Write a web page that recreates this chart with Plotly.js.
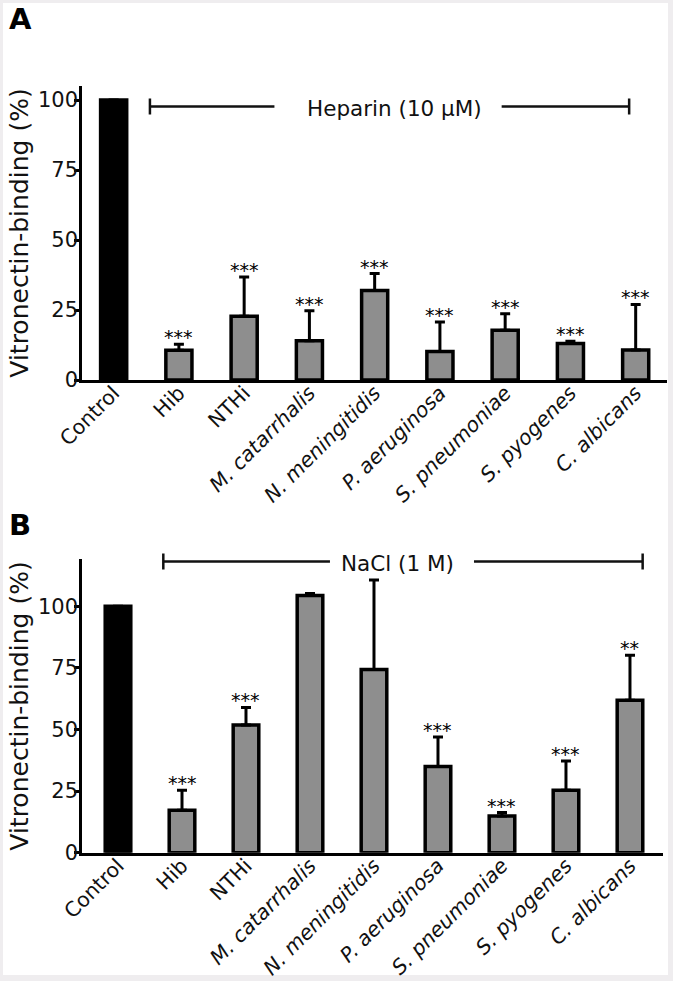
<!DOCTYPE html>
<html>
<head>
<meta charset="utf-8">
<script src="https://cdn.plot.ly/plotly-3.0.1.min.js"></script>
<style>html,body{margin:0;padding:0;background:#efedef;}#chart{width:673px;height:981px;}</style>
</head>
<body>
<div id="chart"></div>
<script>
// ---- data ----
const categories = ['Control', 'Hib', 'NTHi', 'M. catarrhalis', 'N. meningitidis', 'P. aeruginosa', 'S. pneumoniae', 'S. pyogenes', 'C. albicans'];
const tickLabels = ['Control', 'Hib', 'NTHi', '<i>M. catarrhalis</i>', '<i>N. meningitidis</i>', '<i>P. aeruginosa</i>', '<i>S. pneumoniae</i>', '<i>S. pyogenes</i>', '<i>C. albicans</i>'];
const yTicks = [0, 25, 50, 75, 100];

const heparinValues = [100, 10.6, 22.8, 14.0, 32.0, 10.2, 17.8, 13.0, 10.7];
const heparinErrors = [null, 2.2, 14.0, 10.7, 6.0, 10.5, 5.9, 0.8, 16.3];
const heparinStars = ['', '***', '***', '***', '***', '***', '***', '***', '***'];
const heparinLabel = 'Heparin (10 μM)';

const naclValues = [100, 17.2, 51.8, 104.3, 74.3, 35.0, 14.9, 25.3, 61.8];
const naclErrors = [null, 8.1, 7.1, 0.8, 36.3, 11.9, 1.4, 11.9, 18.3];
const naclStars = ['', '***', '***', '', '', '***', '***', '***', '**'];
const naclLabel = 'NaCl (1 M)';

const panelLabels = ['A', 'B'];
const yTitle = 'Vitronectin-binding (%)';

// ---- styling ----
const FONT = 'DejaVu Sans, Arial, sans-serif';
const W = 673, H = 981;
const px = v => v / W;
const py = v => 1 - v / H;
const GREY = '#8e8e8e';
const barColors = categories.map((c, i) => i === 0 ? '#000000' : GREY);

function barTrace(values, errors, xa, ya) {
  return {
    type: 'bar', x: categories, y: values, xaxis: xa, yaxis: ya,
    width: 0.4,
    marker: {color: barColors, line: {color: '#000', width: 3.5}},
    error_y: {type: 'data', symmetric: false, array: errors,
              arrayminus: errors.map(() => 0), color: '#000', thickness: 3, width: 5},
    hoverinfo: 'skip', showlegend: false
  };
}
// invisible carrier so the label-only axes are drawn
function labelCarrier(xa, ya) {
  return {type: 'scatter', mode: 'markers', x: categories, y: categories.map(() => null),
          xaxis: xa, yaxis: ya, hoverinfo: 'skip', showlegend: false};
}

function starAnns(values, errors, stars, xa, ya) {
  return categories.map((c, i) => ({
    xref: xa, yref: ya, x: c, y: values[i] + (errors[i] || 0),
    text: stars[i], showarrow: false, yanchor: 'bottom', yshift: -6,
    font: {family: FONT, size: 19, color: '#000'}
  })).filter(a => a.text);
}

function bracket(xref, yLine, half, xL, xLe, xRs, xR) {
  const ln = {color: '#111', width: 2.5};
  return [
    {type: 'line', xref: xref, yref: 'paper', x0: xL, x1: xLe, y0: py(yLine), y1: py(yLine), line: ln},
    {type: 'line', xref: xref, yref: 'paper', x0: xRs, x1: xR, y0: py(yLine), y1: py(yLine), line: ln},
    {type: 'line', xref: xref, yref: 'paper', x0: xL, x1: xL, y0: py(yLine - half), y1: py(yLine + half), line: ln},
    {type: 'line', xref: xref, yref: 'paper', x0: xR, x1: xR, y0: py(yLine - half), y1: py(yLine + half), line: ln}
  ];
}

const data = [
  barTrace(heparinValues, heparinErrors, 'x', 'y'),
  barTrace(naclValues, naclErrors, 'x2', 'y2'),
  labelCarrier('x3', 'y3'),
  labelCarrier('x4', 'y4')
];

// axis lines (no labels)
const xLine = {
  type: 'category', categoryorder: 'array', categoryarray: categories,
  showline: true, linewidth: 3, linecolor: '#000', ticks: '', showticklabels: false,
  showgrid: false, zeroline: false, automargin: false, fixedrange: true
};
const yLine = {
  showline: true, linewidth: 3, linecolor: '#000', ticks: 'outside', ticklen: 5,
  tickwidth: 3, tickcolor: '#000', showgrid: false, zeroline: false, showticklabels: false,
  tickvals: yTicks, automargin: false, fixedrange: true
};
// label-only axes
const xLab = {
  type: 'category', categoryorder: 'array', categoryarray: categories,
  showline: false, ticks: '', showgrid: false, zeroline: false, tickangle: -45,
  tickvals: categories, ticktext: tickLabels, anchor: 'free',
  tickfont: {family: FONT, size: 20.5, color: '#111'}, automargin: false, fixedrange: true
};
const yLab = {
  showline: false, ticks: '', showgrid: false, zeroline: false, anchor: 'free',
  tickvals: yTicks, tickfont: {family: FONT, size: 21, color: '#111'},
  title: {text: yTitle, font: {family: FONT, size: 25, color: '#111'}, standoff: 1},
  automargin: false, fixedrange: true
};

const xA = {domain: [px(82), px(667)], range: [-0.485, 8.48]};
const yA = {domain: [py(380), py(86)], range: [0, 105]};
const xB = {domain: [px(82), px(663)], range: [-0.5625, 8.516]};
const yB = {domain: [py(852.7), py(559.3)], range: [0, 119]};

const layout = {
  width: W, height: H,
  margin: {l: 0, r: 0, t: 0, b: 0},
  paper_bgcolor: '#efedef', plot_bgcolor: 'rgba(0,0,0,0)',
  xaxis: Object.assign({}, xLine, xA, {anchor: 'y'}),
  yaxis: Object.assign({}, yLine, yA, {anchor: 'x'}),
  xaxis2: Object.assign({}, xLine, xB, {anchor: 'y2'}),
  yaxis2: Object.assign({}, yLine, yB, {anchor: 'x2'}),
  xaxis3: Object.assign({}, xLab, xA, {overlaying: 'x', position: py(376)}),
  yaxis3: Object.assign({}, yLab, yA, {overlaying: 'y', position: px(78)}),
  xaxis4: Object.assign({}, xLab, xB, {overlaying: 'x2', position: py(848.7)}),
  yaxis4: Object.assign({}, yLab, yB, {overlaying: 'y2', position: px(78)}),
  shapes: [
    {type: 'rect', xref: 'paper', yref: 'paper', x0: px(3), x1: px(668), y0: py(975), y1: py(3),
     fillcolor: '#ffffff', line: {width: 0}, layer: 'below'}
  ].concat(
    bracket('x', 106.5, 8, 0.556, 2.464, 5.946, 7.9),
    bracket('x2', 561.5, 8, 0.708, 3.312, 5.5625, 8.198)
  ),
  annotations: [
    {xref: 'paper', yref: 'paper', x: px(20), y: py(19), text: '<b>' + panelLabels[0] + '</b>', showarrow: false,
     xanchor: 'center', yanchor: 'middle', font: {family: FONT, size: 29, color: '#000'}},
    {xref: 'paper', yref: 'paper', x: px(20), y: py(525), text: '<b>' + panelLabels[1] + '</b>', showarrow: false,
     xanchor: 'center', yanchor: 'middle', font: {family: FONT, size: 29, color: '#000'}},
    {xref: 'x', yref: 'paper', x: 4.297, y: py(108), text: heparinLabel, showarrow: false,
     xanchor: 'center', yanchor: 'middle', font: {family: FONT, size: 21.5, color: '#111'}},
    {xref: 'x2', yref: 'paper', x: 4.367, y: py(563), text: naclLabel, showarrow: false,
     xanchor: 'center', yanchor: 'middle', font: {family: FONT, size: 21.5, color: '#111'}}
  ].concat(
    starAnns(heparinValues, heparinErrors, heparinStars, 'x', 'y'),
    starAnns(naclValues, naclErrors, naclStars, 'x2', 'y2')
  )
};

Plotly.newPlot('chart', data, layout, {displayModeBar: false, staticPlot: true});
</script>
</body>
</html>
